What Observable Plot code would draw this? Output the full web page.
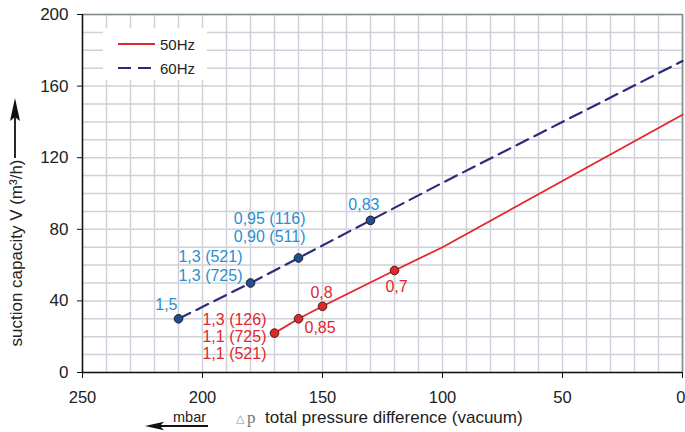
<!DOCTYPE html>
<html><head><meta charset="utf-8">
<script src="https://cdn.jsdelivr.net/npm/d3@7"></script>
<script src="https://cdn.jsdelivr.net/npm/@observablehq/plot@0.6"></script>
<style>body{margin:0;background:#fff} svg{font-family:"Liberation Sans",Arial,sans-serif}</style>
</head><body><div id="chart"></div>
<script>
// ---- data ----
const line50Dp = [170, 160, 150, 120, 100, 0];
const line50V  = [22, 30, 37, 57, 70, 144];
const line60Dp = [210, 180, 160, 130, 100, 0];
const line60V  = [30, 50, 64, 85, 106, 174];
const pts50Dp = [170, 160, 150, 120];
const pts50V  = [22, 30, 37, 57];
const pts50Labels = ["1,3 (126)\n1,1 (725)\n1,1 (521)", "0,85", "0,8", "0,7"];
const pts60Dp = [210, 180, 160, 130];
const pts60V  = [30, 50, 64, 85];
const pts60Labels = ["1,5", "1,3 (521)\n1,3 (725)", "0,95 (116)\n0,90 (511)", "0,83"];
const xTicks = [250, 200, 150, 100, 50, 0];
const yTicks = [0, 40, 80, 120, 160, 200];
const seriesNames = ["50Hz", "60Hz"];
const xTitle = "total pressure difference (vacuum)";
const yTitle = "suction capacity V (m³/h)";
const unitLabel = "mbar";

// ---- styles ----
const RED = "#e3262b", NAVY = "#2c2a7c", LBLUE = "#2a8fd0", RED_TXT = "#e3262b";
const style50 = [
  {anchor: "end", dx: -8, dy: 3.5, lh: 1.07},
  {anchor: "start", dx: 6, dy: 9, lh: 1},
  {anchor: "middle", dx: -1, dy: -13, lh: 1},
  {anchor: "middle", dx: 2, dy: 16, lh: 1}
];
const style60 = [
  {anchor: "end", dx: -1, dy: -14, lh: 1},
  {anchor: "end", dx: -8, dy: -17.5, lh: 1.15},
  {anchor: "end", dx: 7, dy: -30.7, lh: 1.15},
  {anchor: "end", dx: 9, dy: -15.7, lh: 1}
];

const line50 = line50Dp.map((d, i) => ({dp: d, v: line50V[i]}));
const line60 = line60Dp.map((d, i) => ({dp: d, v: line60V[i]}));
const pts50 = pts50Dp.map((d, i) => ({dp: d, v: pts50V[i], label: pts50Labels[i]}));
const pts60 = pts60Dp.map((d, i) => ({dp: d, v: pts60V[i], label: pts60Labels[i]}));

const labelMarks = (pts, styles, color) => pts.map((p, i) => Plot.text([p], {
  x: "dp", y: "v", text: "label", fill: color, fontSize: 16,
  textAnchor: styles[i].anchor, lineAnchor: "middle", lineHeight: styles[i].lh,
  dx: styles[i].dx, dy: styles[i].dy
}));

const lastTick = xTicks[xTicks.length - 1];

const chart = Plot.plot({
  width: 685, height: 432,
  marginLeft: 82, marginRight: 3, marginTop: 14, marginBottom: 60,
  style: {fontFamily: "Liberation Sans, Arial, sans-serif", background: "#fff"},
  x: {domain: [250, 0], range: [82, 682]},
  y: {domain: [0, 200]},
  marks: [
    Plot.gridX(d3.range(0, 251, 10), {stroke: "#cfd0d8", strokeOpacity: 1, strokeWidth: 1.5}),
    Plot.gridY(d3.range(0, 201, 10), {stroke: "#cfd0d8", strokeOpacity: 1, strokeWidth: 1.5}),
    Plot.ruleY([200], {stroke: "#7f8c8d", strokeWidth: 1.5}),
    Plot.ruleX([0], {stroke: "#7f8c8d", strokeWidth: 1.5}),
    Plot.ruleY([0], {stroke: "#111", strokeWidth: 1.5}),
    Plot.ruleX([250], {stroke: "#111", strokeWidth: 1.5}),
    Plot.axisX({ticks: xTicks, tickSize: 6, tickPadding: 13, fontSize: 16.5, label: null, stroke: "#111", fill: "#222",
      tickFormat: d => d === lastTick ? "" : String(d)}),
    Plot.axisX({ticks: [lastTick], tickSize: 0, tickPadding: 19, fontSize: 16.5, label: null, fill: "#222",
      textAnchor: "end", dx: 3}),
    Plot.axisY({ticks: yTicks, tickSize: 5, tickPadding: 9, fontSize: 17, label: null, stroke: "#111", fill: "#222"}),
    Plot.line(line50, {x: "dp", y: "v", stroke: RED, strokeWidth: 1.8}),
    Plot.line(line60, {x: "dp", y: "v", stroke: NAVY, strokeWidth: 2.2, strokeDasharray: "13,7"}),
    Plot.dot(pts50, {x: "dp", y: "v", r: 4.3, fill: "#e02a2a", stroke: "#4a1515", strokeWidth: 1}),
    Plot.dot(pts60, {x: "dp", y: "v", r: 4.3, fill: "#1f4f8f", stroke: "#1a1a2a", strokeWidth: 1}),
    ...labelMarks(pts50, style50, RED_TXT),
    ...labelMarks(pts60, style60, LBLUE)
  ]
});

const svg = d3.select(chart);
const txt = (x, y, size, s) => svg.append("text").attr("x", x).attr("y", y).attr("font-size", size)
  .attr("text-anchor", "start").attr("fill", "#222").text(s);
// legend
svg.append("rect").attr("x", 103).attr("y", 28).attr("width", 104).attr("height", 52).attr("fill", "#fff");
svg.append("line").attr("x1", 118).attr("x2", 155).attr("y1", 44).attr("y2", 44).attr("stroke", RED).attr("stroke-width", 1.8);
svg.append("line").attr("x1", 118).attr("x2", 155).attr("y1", 68).attr("y2", 68).attr("stroke", NAVY).attr("stroke-width", 2.2).attr("stroke-dasharray", "13,7");
txt(160, 49.5, 15, seriesNames[0]);
txt(160, 73.5, 15, seriesNames[1]);
// y title with arrow
svg.append("text").attr("transform", "translate(21.5,253) rotate(-90)").attr("text-anchor", "middle")
  .attr("font-size", 17).attr("fill", "#222").text(yTitle);
svg.append("line").attr("x1", 15).attr("x2", 15).attr("y1", 158).attr("y2", 115).attr("stroke", "#111").attr("stroke-width", 1.8);
svg.append("path").attr("d", "M15,98 L20,121 L15,117 L10,121 Z").attr("fill", "#111");
// x title
txt(265, 423, 17, xTitle);
txt(236, 421.5, 11, "△").attr("fill", "#888").attr("font-family", "DejaVu Sans");
txt(247, 423, 17, "p").attr("fill", "#777").attr("font-family", "Liberation Serif");
txt(173, 421.5, 14.5, unitLabel);
svg.append("line").attr("x1", 208).attr("x2", 158).attr("y1", 426).attr("y2", 426).attr("stroke", "#111").attr("stroke-width", 1.8);
svg.append("path").attr("d", "M145,426 L164,421.8 L160,426 L164,430.3 Z").attr("fill", "#111");

document.getElementById("chart").appendChild(chart);
</script>
</body></html>
